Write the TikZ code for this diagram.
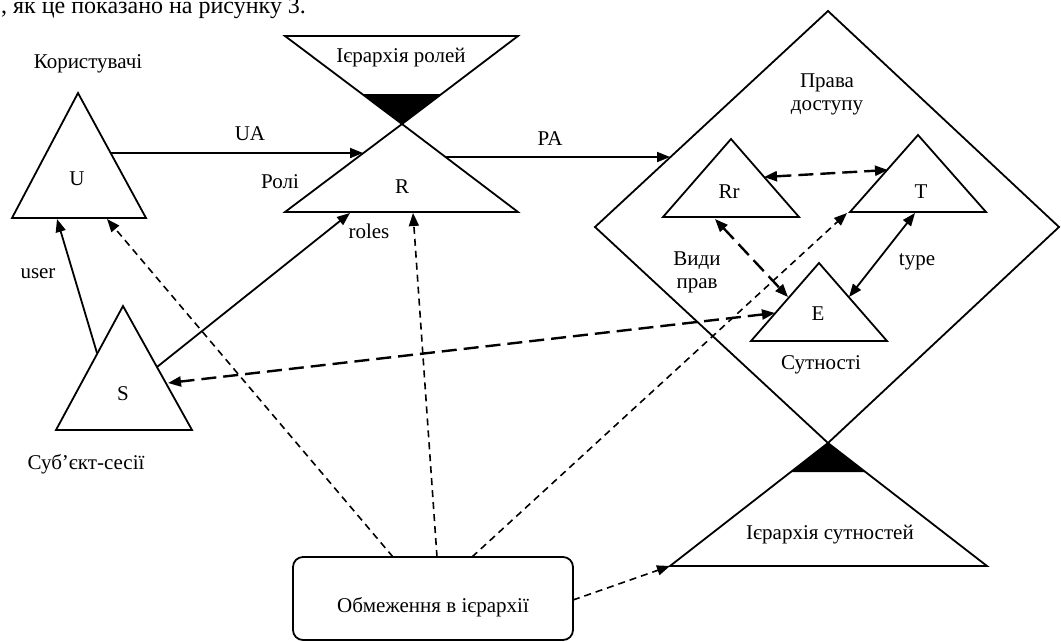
\documentclass[tikz,border=0pt]{standalone}
\usepackage{fontspec}
\setmainfont{Liberation Serif}
\usetikzlibrary{arrows.meta,calc}
\begin{document}
\begin{tikzpicture}[x=1pt,y=-1pt,
  lbl/.style={font=\fontsize{21}{25}\selectfont, inner sep=0pt, anchor=base},
  outline/.style={line width=1.8pt, line join=miter},
  tip/.style={-{Triangle[length=13pt,width=10pt]}},
  conn/.style={line width=1.8pt, tip},
  biconn/.style={line width=1.8pt, {Triangle[length=13pt,width=10pt]}-{Triangle[length=13pt,width=10pt]}},
  shortdash/.style={line width=1.6pt, dash pattern=on 7pt off 5pt, tip},
  longdash/.style={line width=2.4pt, dash pattern=on 15pt off 7pt, {Triangle[length=13pt,width=10pt]}-{Triangle[length=13pt,width=10pt]}},
]
\useasboundingbox (0,0) rectangle (1061,641);
\fill[white] (0,0) rectangle (1061,641);

% ---- vertices ----
\coordinate (Ua) at (78,93);  \coordinate (Ul) at (12,218);  \coordinate (Ur) at (146,218);
\coordinate (Ha) at (285,36); \coordinate (Hb) at (518,36);  \coordinate (Ra) at (402,124);
\coordinate (Rl) at (285,212);\coordinate (Rr) at (518,212);
\coordinate (Dt) at (828,11); \coordinate (Dr) at (1059,227);\coordinate (Db) at (828,443); \coordinate (Dl) at (595,227);
\coordinate (RRa) at (731,139); \coordinate (RRl) at (663,217); \coordinate (RRr) at (799,217);
\coordinate (Ta) at (918,135); \coordinate (Tl) at (850,212); \coordinate (Tr) at (986,212);
\coordinate (Ea) at (819,263); \coordinate (El) at (751,341); \coordinate (Er) at (887,341);
\coordinate (Bl) at (670,566); \coordinate (Br) at (987,566);
\coordinate (Sa) at (123,306); \coordinate (Sl) at (56,430); \coordinate (Sr) at (192,430);

% ---- black fills ----
\fill (362,94) -- (442,94) -- (Ra) -- cycle;
\fill (791,472) -- (865,472) -- (Db) -- cycle;

% ---- shapes ----
\draw[outline] (Ua) -- (Ul) -- (Ur) -- cycle;
\draw[outline] (Ha) -- (Hb) -- (Ra) -- cycle;
\draw[outline] (Ra) -- (Rl) -- (Rr) -- cycle;
\draw[outline] (Dt) -- (Dr) -- (Db) -- (Dl) -- cycle;
\draw[outline] (RRa) -- (RRl) -- (RRr) -- cycle;
\draw[outline] (Ta) -- (Tl) -- (Tr) -- cycle;
\draw[outline] (Ea) -- (El) -- (Er) -- cycle;
\draw[outline] (Db) -- (Bl) -- (Br) -- cycle;
\draw[outline] (Sa) -- (Sl) -- (Sr) -- cycle;
\draw[outline, rounded corners=10pt] (293,557) rectangle (573,640);
\node (box) at (433,598.5) [minimum width=280pt, minimum height=83pt, inner sep=0pt] {};

% ---- texts ----
\node[lbl, font=\fontsize{24}{28}\selectfont, anchor=base west] (top) at (1,13) {, як це показано на рисунку 3.};
\node[lbl] (tU1) at (88,68) {Користувачі};
\node[lbl] (tU) at (77,185) {U};
\node[lbl] (tUA) at (250,140) {UA};
\node[lbl] (tRoli) at (280,188) {Ролі};
\node[lbl] (tR) at (402,193) {R};
\node[lbl] (tHR) at (401,62) {Ієрархія ролей};
\node[lbl] (tPA) at (550,145) {PA};
\node[lbl] (tP1) at (827,87) {Права};
\node[lbl] (tP2) at (827,110) {доступу};
\node[lbl] (tRr) at (729,198) {Rr};
\node[lbl] (tT) at (921,198) {T};
\node[lbl] (ttype) at (917,265) {type};
\node[lbl] (tV1) at (697,265) {Види};
\node[lbl] (tV2) at (697,288) {прав};
\node[lbl] (tE) at (818,320) {E};
\node[lbl] (tSut) at (821,369) {Сутності};
\node[lbl] (tHS) at (830,539) {Ієрархія сутностей};
\node[lbl] (tS) at (123,400) {S};
\node[lbl] (tuser) at (38,278) {user};
\node[lbl] (troles) at (369,238) {roles};
\node[lbl] (tSS) at (86,469) {Суб’єкт-сесії};
\node[lbl] (tObm) at (433,612) {Обмеження в ієрархії};

% ---- connector end points ----
\coordinate (ua1) at (111,153);  \coordinate (ua2) at (363,153);
\coordinate (pa1) at (446,157);  \coordinate (pa2) at (670,157);
\coordinate (rt1) at (764,177);  \coordinate (rt2) at (888,170);
\coordinate (re1) at (715,219);  \coordinate (re2) at (788,297);
\coordinate (te1) at (915,213);  \coordinate (te2) at (849,297);
\coordinate (us1) at (97,353);   \coordinate (us2) at (57,219);
\coordinate (ro1) at (157,367);  \coordinate (ro2) at (350,213);
\coordinate (es1) at (775,313);  \coordinate (es2) at (168,383);
\coordinate (b1) at (393,557);   \coordinate (bU) at (107,219);
\coordinate (b2) at (437,557);   \coordinate (bR) at (413,213);
\coordinate (b3) at (472,557);   \coordinate (bT) at (847,213);
\coordinate (b4) at (573,600);   \coordinate (bH) at (Bl);

% ---- connectors ----
\draw[conn] (ua1) -- (ua2);
\draw[conn] (pa1) -- (pa2);
\draw[longdash] (rt1) -- (rt2);
\draw[longdash] (re1) -- (re2);
\draw[biconn] (te1) -- (te2);
\draw[conn] (us1) -- (us2);
\draw[conn] (ro1) -- (ro2);
\draw[longdash] (es1) -- (es2);
\draw[shortdash] (b1) -- (bU);
\draw[shortdash] (b2) -- (bR);
\draw[shortdash] (b3) -- (bT);
\draw[shortdash] (b4) -- (bH);
\end{tikzpicture}
\end{document}
